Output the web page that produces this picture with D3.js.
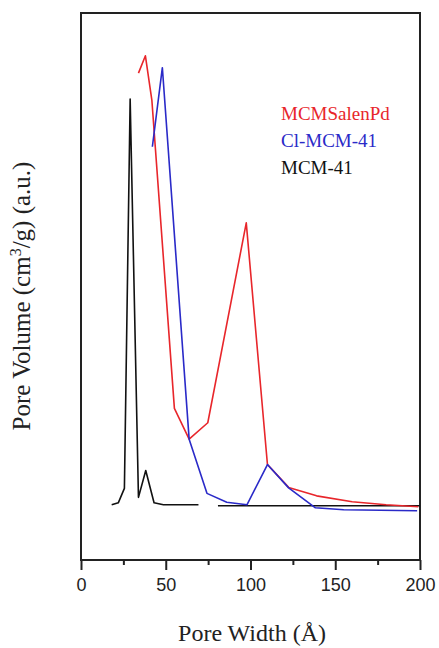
<!DOCTYPE html>
<html><head><meta charset="utf-8">
<script src="https://cdn.jsdelivr.net/npm/d3@7"></script>
<style>body{margin:0;background:#fff}</style>
</head><body>
<svg id="c" width="439" height="648"></svg>
<script>
// Data (pore width in Å, pore volume in a.u.)
const redX   = [33.9, 38.0, 41.8, 55.1, 63.8, 74.8, 97.5, 110, 122.5, 139, 160, 180, 199];
const redY   = [97.9, 101.4, 92.5, 30.5, 24.3, 27.6, 67.8, 19.2, 14.6, 12.9, 11.7, 11.1, 10.7];
const blueX  = [42.1, 48.0, 63.8, 74.3, 86, 97.9, 110, 122.5, 138.3, 155, 198.3];
const blueY  = [83.1, 99.0, 24.3, 13.4, 11.6, 11.1, 19.2, 14.5, 10.5, 10.1, 9.9];
const blackX = [18.1, 22, 25.6, 29.0, 33.9, 38.2, 43.1, 48.6, 69.3, null, 80.8, 200];
const blackY = [11.1, 11.5, 14.4, 92.7, 12.6, 18.0, 11.5, 11.1, 11.1, null, 10.9, 10.9];
const seriesNames = ["MCMSalenPd", "Cl-MCM-41", "MCM-41"];
const seriesColors = ["#e8262b", "#2a2ac8", "#111111"];
const xMajorTicks = [0, 50, 100, 150, 200];
const xMinorTicks = [25, 75, 125, 175];

const svg = d3.select("#c");
const L = 81, R = 420, T = 13, B = 560;
const x = d3.scaleLinear().domain([0, 200]).range([L, R]);
const y = d3.scaleLinear().domain([0, 110]).range([B, T]);

// frame
svg.append("rect").attr("x", L).attr("y", T).attr("width", R - L).attr("height", B - T)
  .attr("fill", "none").attr("stroke", "#222").attr("stroke-width", 2);

// bottom axis
const ax = svg.append("g").attr("transform", `translate(0,${B})`)
  .call(d3.axisBottom(x).tickValues(xMajorTicks).tickSize(10).tickPadding(8).tickFormat(d3.format("d")));
ax.select(".domain").remove();
ax.selectAll(".tick line").attr("stroke", "#222").attr("stroke-width", 2);
ax.selectAll(".tick text").attr("font-family", "Liberation Sans, Arial, sans-serif")
  .attr("font-size", 18).attr("fill", "#222");
const axm = svg.append("g").attr("transform", `translate(0,${B})`)
  .call(d3.axisBottom(x).tickValues(xMinorTicks).tickSize(5).tickFormat(""));
axm.select(".domain").remove();
axm.selectAll(".tick line").attr("stroke", "#222").attr("stroke-width", 2);

// lines
const mk = (xs, ys) => xs.map((v, i) => ({x: v, y: ys[i]}));
const line = d3.line().defined(d => d.x !== null).x(d => x(d.x)).y(d => y(d.y));
const series = [mk(blackX, blackY), mk(redX, redY), mk(blueX, blueY)];
const cols = [seriesColors[2], seriesColors[0], seriesColors[1]];
series.forEach((s, i) => {
  svg.append("path").datum(s).attr("d", line).attr("fill", "none")
    .attr("stroke", cols[i]).attr("stroke-width", 1.6).attr("stroke-linejoin", "round");
});

// legend
const legY = [120, 147, 174];
seriesNames.forEach((n, i) => {
  svg.append("text").attr("x", 281).attr("y", legY[i]).text(n)
    .attr("font-family", "Liberation Serif, Times New Roman, serif").attr("font-size", 19)
    .attr("fill", seriesColors[i]);
});

// axis titles
svg.append("text").attr("x", 252).attr("y", 641).attr("text-anchor", "middle")
  .attr("font-family", "Liberation Serif, Times New Roman, serif").attr("font-size", 24)
  .attr("fill", "#222").text("Pore Width (Å)");
const yt = svg.append("text").attr("transform", "translate(30,296) rotate(-90)")
  .attr("text-anchor", "middle")
  .attr("font-family", "Liberation Serif, Times New Roman, serif").attr("font-size", 25)
  .attr("fill", "#222");
yt.append("tspan").text("Pore Volume (cm");
yt.append("tspan").attr("dy", -9).attr("font-size", 16).text("3");
yt.append("tspan").attr("dy", 9).text("/g) (a.u.)");
</script>
</body></html>
